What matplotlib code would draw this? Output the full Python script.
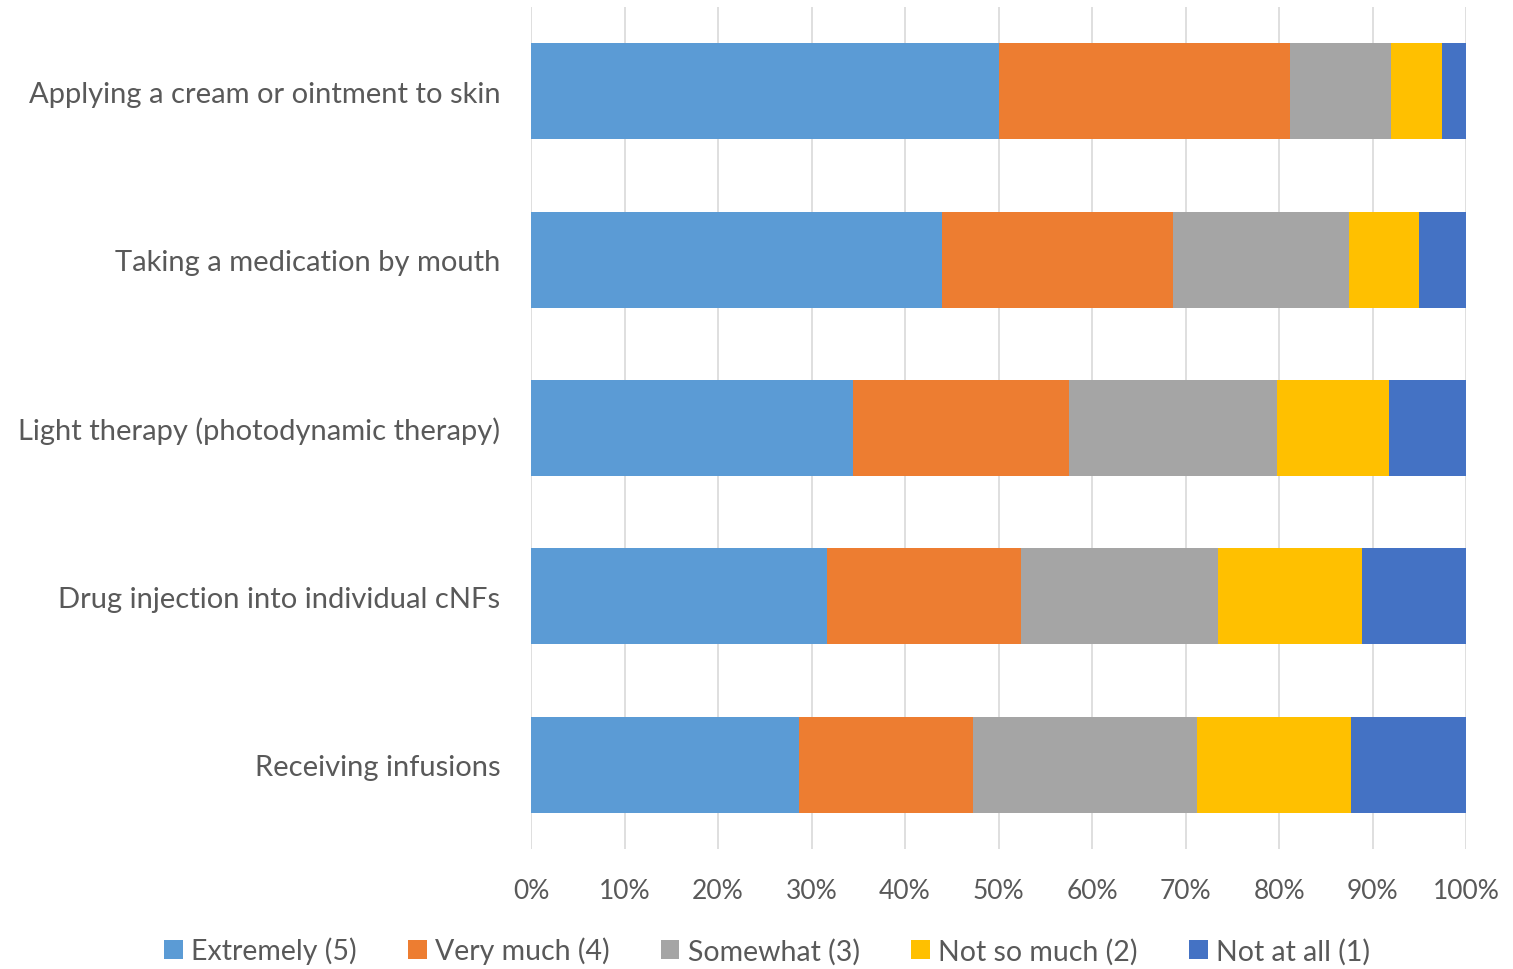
import numpy as np
import matplotlib.pyplot as plt

# survey answers, share of respondents (%)
categories = ["Applying a cream or ointment to skin",
              "Taking a medication by mouth",
              "Light therapy (photodynamic therapy)",
              "Drug injection into individual cNFs",
              "Receiving infusions"]
series_names = ["Extremely (5)", "Very much (4)", "Somewhat (3)", "Not so much (2)", "Not at all (1)"]
extremely = [50.0, 43.9, 34.4, 31.6, 28.7]
very_much = [31.2, 24.8, 23.1, 20.8, 18.6]
somewhat = [10.8, 18.8, 22.3, 21.1, 23.9]
not_so_much = [5.4, 7.5, 12.0, 15.4, 16.5]
not_at_all = [2.6, 5.0, 8.2, 11.1, 12.3]
x_ticks = [0, 10, 20, 30, 40, 50, 60, 70, 80, 90, 100]

colors = ["#5B9BD5", "#ED7D31", "#A5A5A5", "#FFC000", "#4472C4"]
text_color = "#595959"

plt.rcParams['font.family'] = ['Lato', 'DejaVu Sans']

fig = plt.figure(figsize = (15.13, 9.70), dpi = 100)
ax = fig.add_axes([0.351, 0.1237, 0.618, 0.868])

values = [extremely, very_much, somewhat, not_so_much, not_at_all]
y = np.arange(len(categories))
left = np.zeros(len(categories))
for name, vals, col in zip(series_names, values, colors) :
    ax.barh(y, vals, left = left, height = 0.57, color = col, label = name, zorder = 2)
    left = left + np.array(vals)

ax.set_xlim(0, 100)
ax.set_ylim(len(categories) - 0.5, -0.5)
ax.set_xticks(x_ticks)
ax.set_xticklabels([str(t) + "%" for t in x_ticks])
ax.set_yticks(y)
ax.set_yticklabels(categories)
ax.grid(axis = 'x', color = "#D9D9D9", linewidth = 1.2, zorder = 0)
for s in ax.spines.values() :
    s.set_visible(False)
ax.tick_params(axis = 'both', length = 0, labelcolor = text_color)
ax.tick_params(axis = 'x', pad = 21, labelsize = 19)
ax.tick_params(axis = 'y', pad = 22, labelsize = 21)
for lbl in ax.get_yticklabels() :
    lbl.set_va('center_baseline')

fig.legend(loc = 'center', bbox_to_anchor = (0.507, 0.019), ncol = 5, frameon = False,
           fontsize = 20.5, labelcolor = text_color, handlelength = 0.65, handleheight = 0.65,
           handletextpad = 0.3, columnspacing = 1.8)

plt.savefig("out.png")
